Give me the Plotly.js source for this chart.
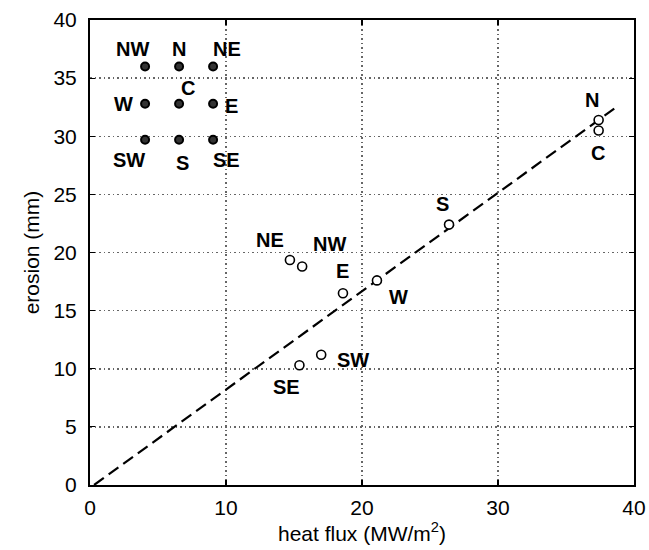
<!DOCTYPE html>
<html>
<head>
<meta charset="utf-8">
<script src="https://cdn.plot.ly/plotly-3.0.1.min.js"></script>
<style>html,body{margin:0;padding:0;background:#fff;}#chart{width:649px;height:550px;}</style>
</head>
<body>
<div id="chart"></div>
<script>
// Measured points
const labels = ["N", "C", "S", "NE", "NW", "E", "W", "SW", "SE"];
const heatFlux = [37.4, 37.4, 26.4, 14.7, 15.6, 18.6, 21.1, 17.0, 15.4];
const erosion = [31.4, 30.5, 22.4, 19.35, 18.8, 16.5, 17.6, 11.2, 10.3];
// label pixel offsets
const labelDx = [-7, -1, -7, -20, 27, 0, 22, 32, -13];
const labelDy = [20, -23, 21, 20, 22, 22, -17, -5, -22];

// Fit line endpoints
const fitX = [0.3, 38.7];
const fitY = [0.0, 32.5];

// Position key (inset)
const keyLabels = ["NW", "N", "NE", "W", "C", "E", "SW", "S", "SE"];
const keyX = [4.05, 6.55, 9.05, 4.05, 6.55, 9.05, 4.05, 6.55, 9.05];
const keyY = [36.0, 36.0, 36.0, 32.8, 32.8, 32.8, 29.7, 29.7, 29.7];
const keyDx = [-13, 0, 14, -22, 9, 18, -16, 3, 13];
const keyDy = [18, 18, 18, 0, 16, -2, -20, -23, -20];

const xTicks = [0, 10, 20, 30, 40];
const yTicks = [0, 5, 10, 15, 20, 25, 30, 35, 40];

const font = "Liberation Sans, Arial, sans-serif";

const traces = [
  {x: fitX, y: fitY, mode: "lines", type: "scatter",
   line: {color: "#000", width: 2.2, dash: "12px,6px"}, hoverinfo: "skip"},
  {x: heatFlux, y: erosion, mode: "markers", type: "scatter",
   marker: {symbol: "circle", size: 9, color: "#fff", line: {color: "#000", width: 1.6}}},
  {x: keyX, y: keyY, mode: "markers", type: "scatter",
   marker: {symbol: "circle", size: 8, color: "#333", line: {color: "#000", width: 2}}}
];

const annotations = [];
labels.forEach((t, i) => annotations.push({
  x: heatFlux[i], y: erosion[i], xref: "x", yref: "y", text: "<b>" + t + "</b>",
  showarrow: false, xshift: labelDx[i], yshift: labelDy[i],
  font: {family: font, size: 20, color: "#000"}
}));
keyLabels.forEach((t, i) => annotations.push({
  x: keyX[i], y: keyY[i], xref: "x", yref: "y", text: "<b>" + t + "</b>",
  showarrow: false, xshift: keyDx[i], yshift: keyDy[i],
  font: {family: font, size: 20, color: "#000"}
}));

const axisCommon = {
  showline: true, linecolor: "#000", linewidth: 2, mirror: "ticks",
  ticks: "inside", ticklen: 5, tickcolor: "#000", tickwidth: 1.2,
  showgrid: true, gridcolor: "#666", griddash: "1.5px,3px", gridwidth: 1.5,
  zeroline: false, tickfont: {family: font, size: 21, color: "#000"}
};

const layout = {
  width: 649, height: 550,
  margin: {l: 90, r: 15, t: 20, b: 65},
  paper_bgcolor: "#fff", plot_bgcolor: "#fff",
  showlegend: false,
  xaxis: Object.assign({}, axisCommon, {
    range: [0, 40], tickvals: xTicks, ticktext: xTicks.map(String),
    ticklabelstandoff: 3,
    title: {text: "heat flux (MW/m<sup>2</sup>)", font: {family: font, size: 21, color: "#000"}, standoff: 6}
  }),
  yaxis: Object.assign({}, axisCommon, {
    range: [0, 40], tickvals: yTicks, ticktext: yTicks.map(String),
    ticklabelstandoff: 7,
    title: {text: "erosion (mm)", font: {family: font, size: 21, color: "#000"}, standoff: 8}
  }),
  annotations: annotations
};

Plotly.newPlot("chart", traces, layout, {displayModeBar: false, staticPlot: true});
</script>
</body>
</html>
